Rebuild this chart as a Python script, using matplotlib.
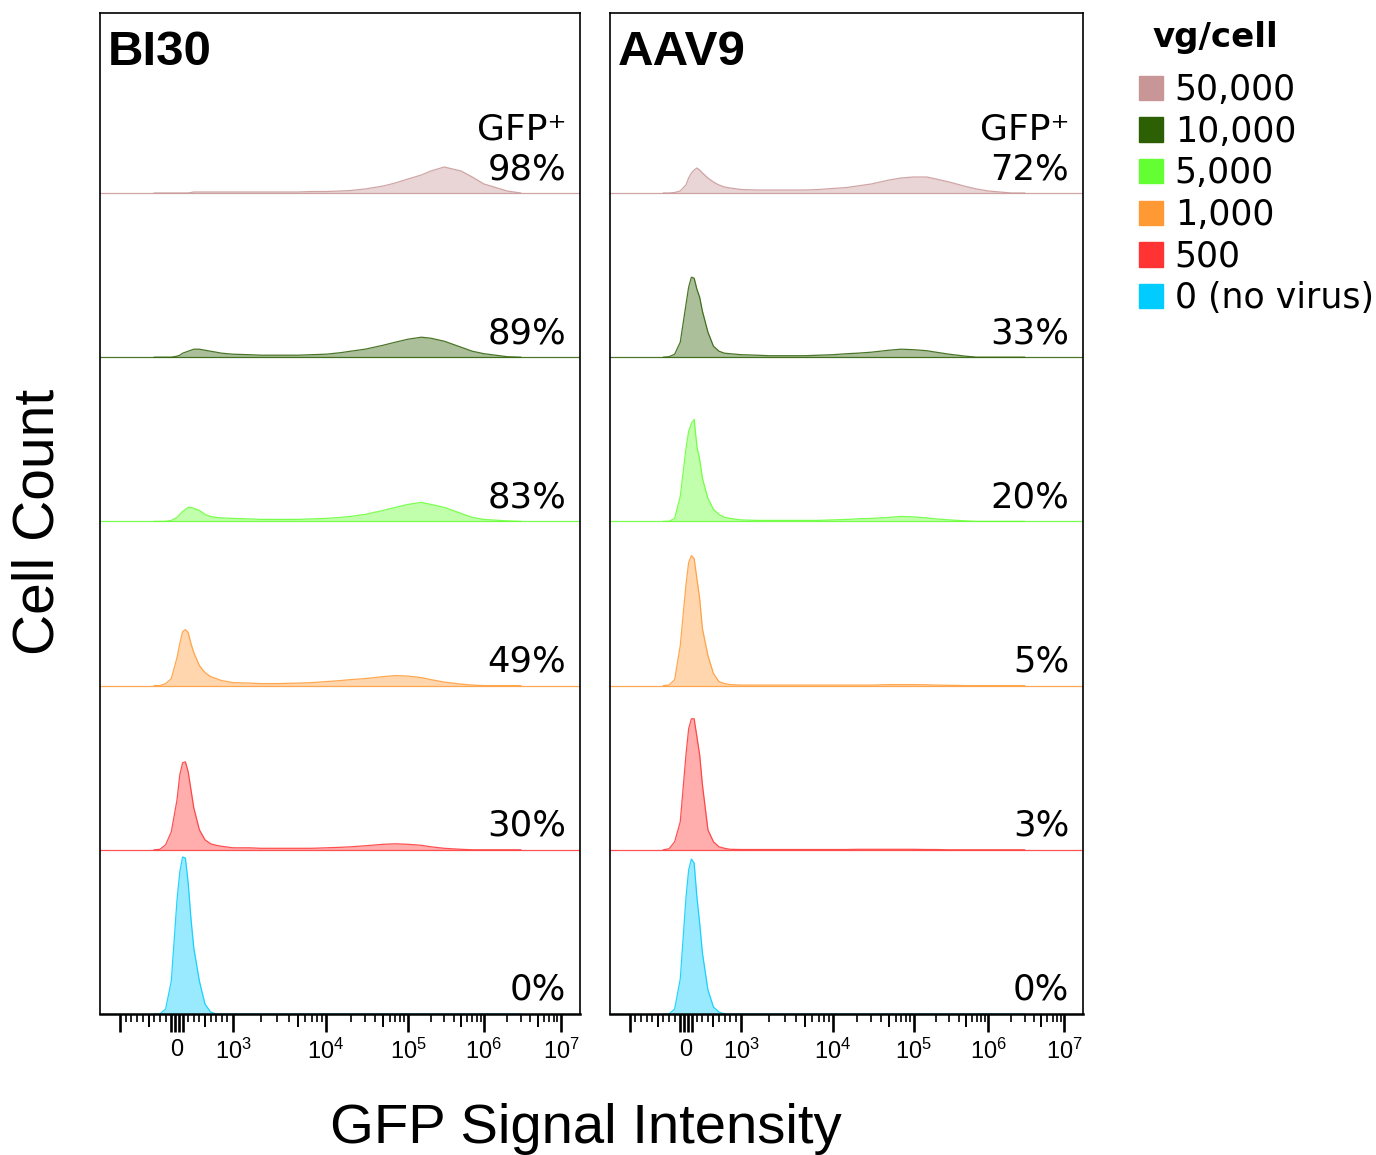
import numpy as np
import matplotlib.pyplot as plt
from matplotlib.patches import Patch

plt.rcParams['font.family'] = ['DejaVu Sans']
plt.rcParams['mathtext.fontset'] = 'custom'
plt.rcParams['mathtext.rm'] = 'Liberation Sans'
plt.rcParams['mathtext.it'] = 'Liberation Sans'

# GFP intensity points where every histogram was read
gfp = [-400, -300, -200, -100, 0, 50, 100, 150, 200, 250, 300,
       400, 500, 600, 700, 800, 1000, 1500, 2000, 3000, 5000, 7000,
       1e4, 1.5e4, 2e4, 3e4, 5e4, 7e4, 1e5, 1.5e5, 2e5, 3e5, 5e5, 7e5,
       1e6, 2e6, 3e6]

doses = ["50,000", "10,000", "5,000", "1,000", "500", "0 (no virus)"]
colors = ["#c89696", "#2d5f05", "#64ff32", "#ff9933", "#ff3333", "#00ccff"]

bi30_pct = ["98%", "89%", "83%", "49%", "30%", "0%"]
aav9_pct = ["72%", "33%", "20%", "5%", "3%", "0%"]

# cell counts (arbitrary units), top row first
bi30_50000 = [0, 0, 0, 0, 0, 0, 0, 0, 0, 0.5, 1, 1, 1, 1, 1, 1, 1, 1, 1, 1, 1, 1.5,
              1.5, 2, 2.5, 4, 7, 10, 14, 18, 22, 26, 22, 16, 9, 2, 0]
bi30_10000 = [0, 0, 0, 0, 1, 2, 4, 5, 6, 7, 8, 8, 7, 6, 5, 4, 3, 2.5, 2, 2, 2, 2.5,
              3, 4.5, 6, 8, 12, 15, 18, 20, 19, 16, 10, 6, 3.5, 0.5, 0]
bi30_5000 = [0, 0, 0, 1, 4, 7, 10, 12, 14, 14, 13, 11, 7, 5, 4, 3.5, 3, 2.5, 2, 2, 2, 2.5,
             3, 4, 5, 7, 11, 14, 17, 19, 17, 14, 8, 4, 2, 0.5, 0]
bi30_1000 = [0, 0, 2, 7, 28, 42, 54, 56, 53, 42, 33, 20, 13, 9, 7, 5, 3, 2.5, 2, 2, 2.5, 3,
             4, 5, 6, 7, 9, 10, 9.5, 8, 6, 3.5, 1.5, 0.5, 0, 0, 0]
bi30_500 = [0, 0.5, 5, 18, 50, 75, 87, 88, 78, 60, 42, 20, 10, 6, 4.5, 3.5, 2, 2, 1.5, 1.5, 1.5, 1.5,
            2, 2.5, 3, 4, 5.5, 6, 5.5, 4.5, 3, 1.5, 0.5, 0, 0, 0, 0]
bi30_0 = [0, 0, 5, 33, 114, 142, 157, 156, 131, 95, 66, 33, 10, 2, 0, 0, 0, 0, 0, 0, 0, 0,
          0, 0, 0, 0, 0, 0, 0, 0, 0, 0, 0, 0, 0, 0, 0]

aav9_50000 = [0, 0, 0.5, 2, 8, 15, 20, 23, 25, 23, 20, 15, 11, 8, 6, 5, 3.5, 3, 3, 3, 3, 3.5,
              4.5, 5.5, 7, 9, 13, 15, 16, 16, 14, 11, 6.5, 4, 2, 0, 0]
aav9_10000 = [0, 0.5, 3, 15, 52, 70, 80, 79, 68, 60, 46, 25, 11, 6, 4, 3.5, 2.5, 2, 1.5, 1.5, 1.5, 2,
              2.5, 3.5, 4, 5, 7, 8, 7.5, 6.5, 5, 3, 1, 0, 0, 0, 0]
aav9_5000 = [0, 0, 3, 25, 72, 90, 98, 102, 75, 62, 43, 23, 12, 7, 4, 3, 1.5, 1, 1, 1, 1, 1,
             1.5, 2, 2.5, 3, 4, 5, 4.5, 3.5, 2.5, 1.5, 0.5, 0, 0, 0, 0]
aav9_1000 = [0, 0.5, 6, 40, 100, 123, 130, 127, 107, 87, 57, 30, 12, 4, 2, 1, 0.5, 0.5, 0.5, 0.5, 0.5, 0.5,
             0.5, 0.5, 0.5, 0.5, 1, 1, 1, 0.8, 0.5, 0.3, 0, 0, 0, 0, 0]
aav9_500 = [0, 1, 8, 28, 94, 121, 131, 131, 113, 95, 65, 20, 8, 3, 1.5, 0.5, 0.3, 0.3, 0.3, 0.3, 0.3, 0.3,
            0.3, 0.3, 0.5, 0.5, 0.5, 0.5, 0.5, 0.3, 0.3, 0, 0, 0, 0, 0, 0]
aav9_0 = [0, 0, 5, 35, 115, 144, 155, 151, 117, 91, 61, 24, 7, 2, 0, 0, 0, 0, 0, 0, 0, 0,
          0, 0, 0, 0, 0, 0, 0, 0, 0, 0, 0, 0, 0, 0, 0]

panels = [
    ("BI30", [bi30_50000, bi30_10000, bi30_5000, bi30_1000, bi30_500, bi30_0], bi30_pct),
    ("AAV9", [aav9_50000, aav9_10000, aav9_5000, aav9_1000, aav9_500, aav9_0], aav9_pct),
]

# biexponential-like axis: linear inside +-1000, log decades outside
T_KNOTS = np.array([-2, -1, 0, 1, 2, 3, 4, 5, 6], float)
P_KNOTS = np.array([-37, 20, 77, 133, 226, 308, 384, 461, 538], float) / 480


def to_t(x):
    x = np.asarray(x, float)
    a = np.maximum(np.abs(x), 1e-9)
    return np.where(a <= 1000, x / 1000, np.sign(x) * (1 + np.log10(a / 1000)))


def from_t(t):
    t = np.asarray(t, float)
    return np.where(np.abs(t) <= 1, t * 1000, np.sign(t) * 1000 * 10 ** (np.abs(t) - 1))


def fwd(x):
    return np.interp(to_t(x), T_KNOTS, P_KNOTS)


def inv(p):
    return from_t(np.interp(p, P_KNOTS, T_KNOTS))


major = [-1000, -105, -35, 0, 35, 105, 1000, 1e4, 1e5, 1e6, 1e7]
major_lbl = ["", "", "", "0", "", "", "$10^{3}$", "$10^{4}$", "$10^{5}$", "$10^{6}$", "$10^{7}$"]
mid = [-500, 500] + [5 * d for d in (1e3, 1e4, 1e5, 1e6)]
minor = [v for v in range(-900, -100, 100)] + [v for v in range(200, 1000, 100)]
minor += [k * d for d in (1e3, 1e4, 1e5, 1e6) for k in range(2, 10)]

ROW = 164.2
fig = plt.figure(figsize=(13.76, 11.55), dpi=100)
boxes = [(100, 480), (610, 473)]

for (title, rows, pcts), (x0, w) in zip(panels, boxes):
    ax = fig.add_axes([x0 / 1376, 141 / 1155, w / 1376, 1001 / 1155])
    ax.set_xscale('function', functions=(fwd, inv))
    ax.set_xlim(float(inv(0.0)), float(inv(1.0)))
    ax.set_ylim(0, 1001)

    for i, (vals, col, pct) in enumerate(zip(rows, colors, pcts)):
        base = (5 - i) * ROW
        y = base + np.array(vals)
        ax.fill_between(gfp, base, y, color=col, alpha=0.4, lw=0)
        ax.plot(gfp, y, color=col, lw=0.9, alpha=0.85)
        ax.axhline(base, color=col, lw=0.9, alpha=0.85)
        ax.text(0.971, base + 14, pct, transform=ax.get_yaxis_transform(),
                ha='right', va='baseline', fontsize=25.5)
        if i == 0:
            ax.text(0.971, base + 53, "GFP\u207a", transform=ax.get_yaxis_transform(),
                    ha='right', va='baseline', fontsize=26)

    ax.text(0.017, 0.948, title, transform=ax.transAxes, ha='left', va='baseline',
            fontsize=35.5, fontweight='bold', family='Liberation Sans')

    ax.set_yticks([])
    ax.set_xticks(major)
    ax.set_xticklabels(major_lbl)
    ax.set_xticks(minor + mid, minor=True)
    ax.tick_params(axis='x', which='major', direction='out', length=13, width=1.9,
                   pad=5, labelsize=17)
    ax.tick_params(axis='x', which='minor', direction='out', length=6, width=1.2)
    for lab in ax.get_xticklabels():
        lab.set_family('Liberation Sans')
    for s in ('left', 'right', 'top'):
        ax.spines[s].set_linewidth(1.2)
    ax.spines['bottom'].set_linewidth(1.8)

    for tk in ax.xaxis.get_major_ticks():
        if tk.get_loc() == 0:
            tk.tick1line.set_visible(False)
    for tk in ax.xaxis.get_minor_ticks():
        if tk.get_loc() in mid:
            tk.tick1line.set_markersize(9.5)

fig.text(39 / 1376, 1 - 522 / 1155, "Cell Count", rotation=90, ha='center', va='center',
         fontsize=41, family='Liberation Sans')
fig.text(586 / 1376, 12 / 1155, "GFP Signal Intensity", ha='center', va='baseline',
         fontsize=40.5, family='Liberation Sans')

fig.text(1152 / 1376, 1 - 47 / 1155, "vg/cell", ha='left', va='baseline',
         fontsize=24.5, fontweight='bold')
handles = [Patch(facecolor=c, edgecolor=c) for c in colors]
fig.legend(handles, doses, loc='upper left', bbox_to_anchor=(1139 / 1376, 1 - 73 / 1155),
           frameon=False, fontsize=25, handlelength=0.7, handleheight=0.7,
           handletextpad=0.33, labelspacing=0.22, borderaxespad=0, borderpad=0)

fig.savefig("out.png", dpi=100)
